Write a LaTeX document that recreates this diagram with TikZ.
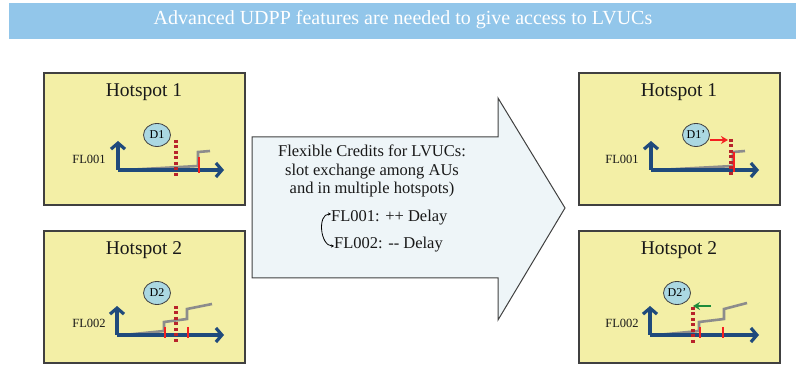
\documentclass[tikz,border=0pt]{standalone}
\usepackage{fontspec}
\setmainfont{Liberation Serif}
\usetikzlibrary{shapes.geometric,arrows.meta}
\definecolor{bannerblue}{HTML}{92C6EA}
\definecolor{boxyellow}{HTML}{F3EFA6}
\definecolor{boxline}{HTML}{404040}
\definecolor{flightblue}{HTML}{ABD8E2}
\definecolor{axisblue}{HTML}{1F4A7C}
\definecolor{slotgrey}{HTML}{8C8C8C}
\definecolor{dotred}{HTML}{B8232B}
\definecolor{slotred}{HTML}{F42020}
\definecolor{movegreen}{HTML}{1E8C3A}
\definecolor{arrowfill}{HTML}{EEF5F8}
\begin{document}
\begin{tikzpicture}[x=1pt,y=-1pt,
  hotbox/.style={draw=boxline, fill=boxyellow, line width=1.2pt,
    minimum width=201pt, minimum height=132pt, inner sep=0pt},
  hottitle/.style={font=\fontsize{19.5}{21}\selectfont, text=black!90},
  flight/.style={ellipse, draw=boxline, fill=flightblue, line width=0.8pt,
    minimum width=27pt, minimum height=23pt, inner sep=0pt,
    font=\fontsize{12}{13}\selectfont},
  fllabel/.style={font=\fontsize{12.5}{13}\selectfont, text=black!90},
  axis/.style={draw=axisblue, line width=3.2pt,
    -{Straight Barb[length=6pt,width=14pt]}},
  slots/.style={draw=slotgrey, line width=2.6pt},
  newslot/.style={draw=slotred, line width=2.8pt},
  ctot/.style={draw=dotred, line width=3.2pt, dash pattern=on 3pt off 2.5pt},
  move/.style={line width=1.8pt, -{Stealth[length=7pt,width=8pt]}}]
  \useasboundingbox (0,0) rectangle (796,366);

  % Define nodes
  \node[fill=bannerblue, minimum width=787pt, minimum height=36pt, inner sep=0pt] (banner) at (402.5,21) {};
  \node[text=white, font=\fontsize{20}{22}\selectfont] (title) at (403,20)
    {Advanced UDPP features are needed to give access to LVUCs};

  \node[hotbox] (box1) at (144.5,139) {};
  \node[hotbox] (box2) at (144.5,297) {};
  \node[hotbox] (box3) at (679.5,139) {};
  \node[hotbox] (box4) at (679.5,297) {};

  \node[hottitle] (hot1) at (144,92) {Hotspot 1};
  \node[hottitle] (hot2) at (144,250) {Hotspot 2};
  \node[hottitle] (hot3) at (679,92) {Hotspot 1};
  \node[hottitle] (hot4) at (679,250) {Hotspot 2};

  % big arrow
  \draw[draw=boxline, fill=arrowfill, line width=1pt]
    (252,137) -- (498,137) -- (498,98) -- (565,208) -- (498,320) -- (498,278) -- (252,278) -- cycle;
  \node[align=center, font=\fontsize{16.5}{18.5}\selectfont, text=black!90] (credits) at (372,171)
    {Flexible Credits for LVUCs:\\slot exchange among AUs\\and in multiple hotspots)};
  \node[anchor=west, inner sep=0pt, font=\fontsize{16.5}{18}\selectfont, text=black!90] (fla) at (331,218) {FL001: ++ Delay};
  \node[anchor=west, inner sep=0pt, font=\fontsize{16.5}{18}\selectfont, text=black!90] (flb) at (334,245) {FL002: {-}{-} Delay};
  \draw[line width=0.8pt, {Stealth[length=3pt,width=3pt]}-{Stealth[length=3pt,width=3pt]}]
    ([yshift=4pt]fla.west) to[out=180, in=180, looseness=1.1] ([yshift=-1pt]flb.west);

  % Hotspot 1 before
  \node[fllabel] (fl1) at (89,159) {FL001};
  \node[flight] (d1) at (157,135) {D1};
  \coordinate (o1) at (118,170);
  \draw[slots] (125,170) -- (198,166) -- (198,152) -- (210,151);
  \draw[axis] (o1) -- ++(0,-29);
  \draw[axis] (o1) -- ++(106,0);
  \draw[ctot] (176,140) -- (176,176);
  \draw[newslot] (199,157) -- (199,173);

  % Hotspot 2 before
  \node[fllabel] (fl2) at (89,323) {FL002};
  \node[flight] (d2) at (157,293) {D2};
  \coordinate (o2) at (117,335);
  \draw[slots] (124,335) -- (164,331) -- (164,322) -- (187,319) -- (187,309) -- (212,304);
  \draw[axis] (o2) -- ++(0,-29);
  \draw[axis] (o2) -- ++(107,0);
  \draw[ctot] (176,306) -- (176,342);
  \draw[newslot] (165,327) -- (165,338);
  \draw[newslot] (188,327) -- (188,338);

  % Hotspot 1 after
  \node[fllabel] (fl3) at (622,159) {FL001};
  \node[flight] (d3) at (696,135) {D1'};
  \coordinate (o3) at (651,170);
  \draw[slots] (658,170) -- (733,166) -- (733,152) -- (745,151);
  \draw[axis] (o3) -- ++(0,-29);
  \draw[axis] (o3) -- ++(108,0);
  \draw[ctot] (731,139) -- (731,176);
  \draw[newslot] (734,152) -- (734,172);
  \coordinate (m1) at (710,140);
  \coordinate (n1) at (728,140);
  \draw[move, slotred] (m1) -- (n1);

  % Hotspot 2 after
  \node[fllabel] (fl4) at (622,323) {FL002};
  \node[flight] (d4) at (677,293) {D2'};
  \coordinate (o4) at (650,335);
  \draw[slots] (657,335) -- (699,331) -- (699,322) -- (724,319) -- (724,309) -- (747,303);
  \draw[axis] (o4) -- ++(0,-29);
  \draw[axis] (o4) -- ++(109,0);
  \draw[ctot] (693,307) -- (693,343);
  \draw[newslot] (700,327) -- (700,338);
  \draw[newslot] (723,327) -- (723,338);
  \coordinate (m2) at (711,306);
  \coordinate (n2) at (693,306);
  \draw[move, movegreen] (m2) -- (n2);
\end{tikzpicture}
\end{document}
